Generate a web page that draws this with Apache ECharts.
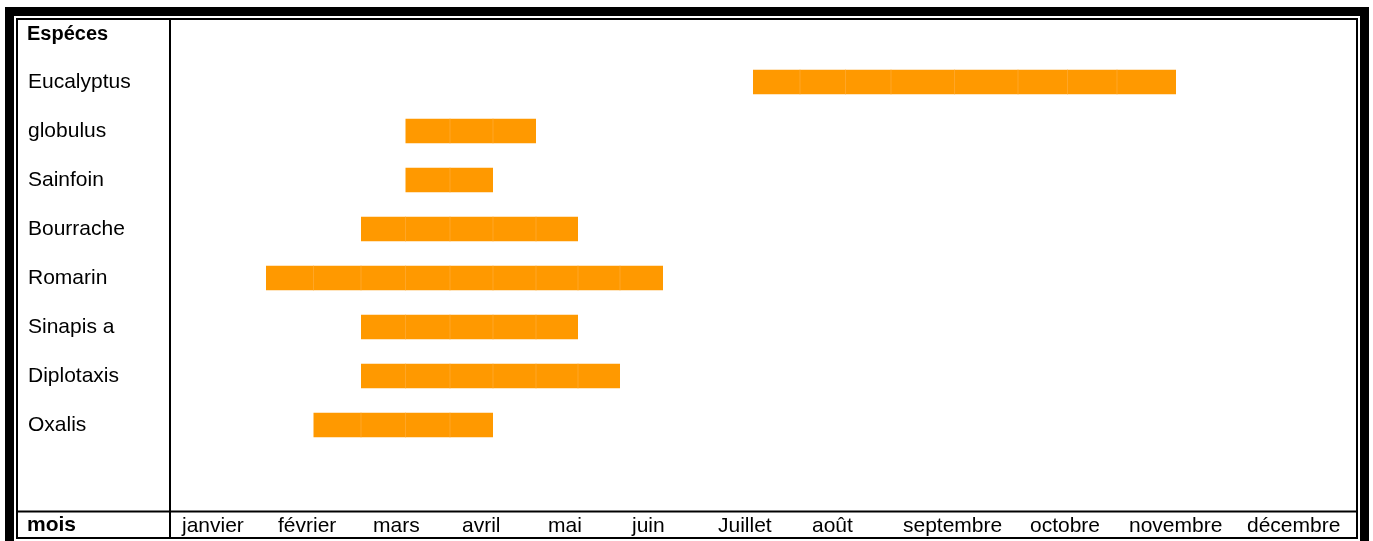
<!DOCTYPE html>
<html>
<head>
<meta charset="utf-8">
<script src="https://cdn.jsdelivr.net/npm/echarts@6/dist/echarts.min.js"></script>
<style>
  html, body { margin: 0; padding: 0; background: #fff; }
  #chart { width: 1373px; height: 541px; }
</style>
</head>
<body>
<div id="chart"></div>
<script>
// Flowering calendar: one row per species, one column per month.
const months = ['janvier', 'février', 'mars', 'avril', 'mai', 'juin',
                'Juillet', 'août', 'septembre', 'octobre', 'novembre', 'décembre'];
const species = ['Eucalyptus', 'globulus', 'Sainfoin', 'Bourrache',
                 'Romarin', 'Sinapis a', 'Diplotaxis', 'Oxalis'];
// Flowering period in months since 1 January (6.5 = mid-July)
const bloomStart = [6.5, 2.5, 2.5, 2, 1, 2, 2, 1.5];
const bloomEnd   = [10.5, 4, 3.5, 4.5, 5.5, 4.5, 5, 3.5];
const rowHeader = 'Espéces';
const colHeader = 'mois';

// Table layout: left edge of each month column, then the right edge of the table
const columnEdges = [170, 266, 361, 450, 536, 620, 706, 800, 891, 1018, 1117, 1235, 1357];
const rowTop = 57.5, rowHeight = 49;
const FONT = '"Liberation Sans", Arial, Helvetica, sans-serif';
const BAR = '#FF9900';

// Split each flowering period into half-month cells, grouped by month column
const cellsByMonth = months.map(() => []);
species.forEach((name, i) => {
  for (let k = bloomStart[i]; k < bloomEnd[i] - 1e-9; k += 0.5) {
    const m = Math.floor(k + 1e-9);
    const hi = Math.min(k + 0.5, bloomEnd[i]);
    cellsByMonth[m].push([k - m, hi - m, i, k === bloomStart[i] ? 1 : 0]);
  }
});

const grids = [], xAxes = [], yAxes = [], series = [];
months.forEach((mName, m) => {
  grids.push({
    left: columnEdges[m],
    width: columnEdges[m + 1] - columnEdges[m],
    top: rowTop,
    height: rowHeight * species.length
  });
  xAxes.push({
    gridIndex: m, type: 'value', min: 0, max: 1, interval: 1,
    axisLine: { show: false }, axisTick: { show: false }, splitLine: { show: false },
    axisLabel: {
      formatter: v => (v === 0 ? mName : ''),
      align: 'left', padding: [0, 0, 0, 12], margin: 66,
      color: '#000', fontSize: 21, fontFamily: FONT
    }
  });
  yAxes.push({
    gridIndex: m, type: 'category', data: species, inverse: true,
    axisLine: { show: false }, axisTick: { show: false }, splitLine: { show: false },
    axisLabel: {
      show: m === 0, align: 'left', margin: columnEdges[0] - 28,
      padding: [4, 0, 0, 0],
      color: '#000', fontSize: 21, fontFamily: FONT
    }
  });
  series.push({
    type: 'custom', xAxisIndex: m, yAxisIndex: m,
    encode: { x: [0, 1], y: 2 },
    data: cellsByMonth[m],
    renderItem: (params, api) => {
      const p0 = api.coord([api.value(0), api.value(2)]);
      const p1 = api.coord([api.value(1), api.value(2)]);
      const h = api.size([0, 1])[1] * 0.5;
      const children = [{
        type: 'rect',
        shape: { x: p0[0], y: p0[1] - h / 2, width: p1[0] - p0[0], height: h },
        style: { fill: BAR }
      }];
      if (!api.value(3)) {
        children.push({
          type: 'line',
          shape: { x1: p0[0], y1: p0[1] - h / 2, x2: p0[0], y2: p0[1] + h / 2 },
          style: { stroke: '#FFA626', lineWidth: 1 }
        });
      }
      return { type: 'group', children };
    }
  });
});

const chart = echarts.init(document.getElementById('chart'), null, { renderer: 'canvas' });
chart.setOption({
  backgroundColor: '#fff',
  animation: false,
  grid: grids,
  xAxis: xAxes,
  yAxis: yAxes,
  series,
  graphic: [
    // heavy outer border
    { type: 'rect', z: 100, silent: true,
      shape: { x: 9.5, y: 11.5, width: 1355, height: 700 },
      style: { fill: 'transparent', stroke: '#000', lineWidth: 9 } },
    // inner table border
    { type: 'rect', z: 100, silent: true,
      shape: { x: 17, y: 19, width: 1340, height: 519 },
      style: { fill: 'transparent', stroke: '#000', lineWidth: 2 } },
    // column divider between species names and months
    { type: 'line', z: 100, silent: true,
      shape: { x1: 170, y1: 19, x2: 170, y2: 538 },
      style: { stroke: '#000', lineWidth: 2 } },
    // row divider above the month names
    { type: 'line', z: 100, silent: true,
      shape: { x1: 17, y1: 511.5, x2: 1357, y2: 511.5 },
      style: { stroke: '#000', lineWidth: 2 } },
    { type: 'text', z: 100, silent: true,
      style: { x: 27, y: 34, text: rowHeader, verticalAlign: 'middle',
               font: 'bold 20px ' + FONT, fill: '#000' } },
    { type: 'text', z: 100, silent: true,
      style: { x: 27, y: 525, text: colHeader, verticalAlign: 'middle',
               font: 'bold 21px ' + FONT, fill: '#000' } }
  ]
});
</script>
</body>
</html>
